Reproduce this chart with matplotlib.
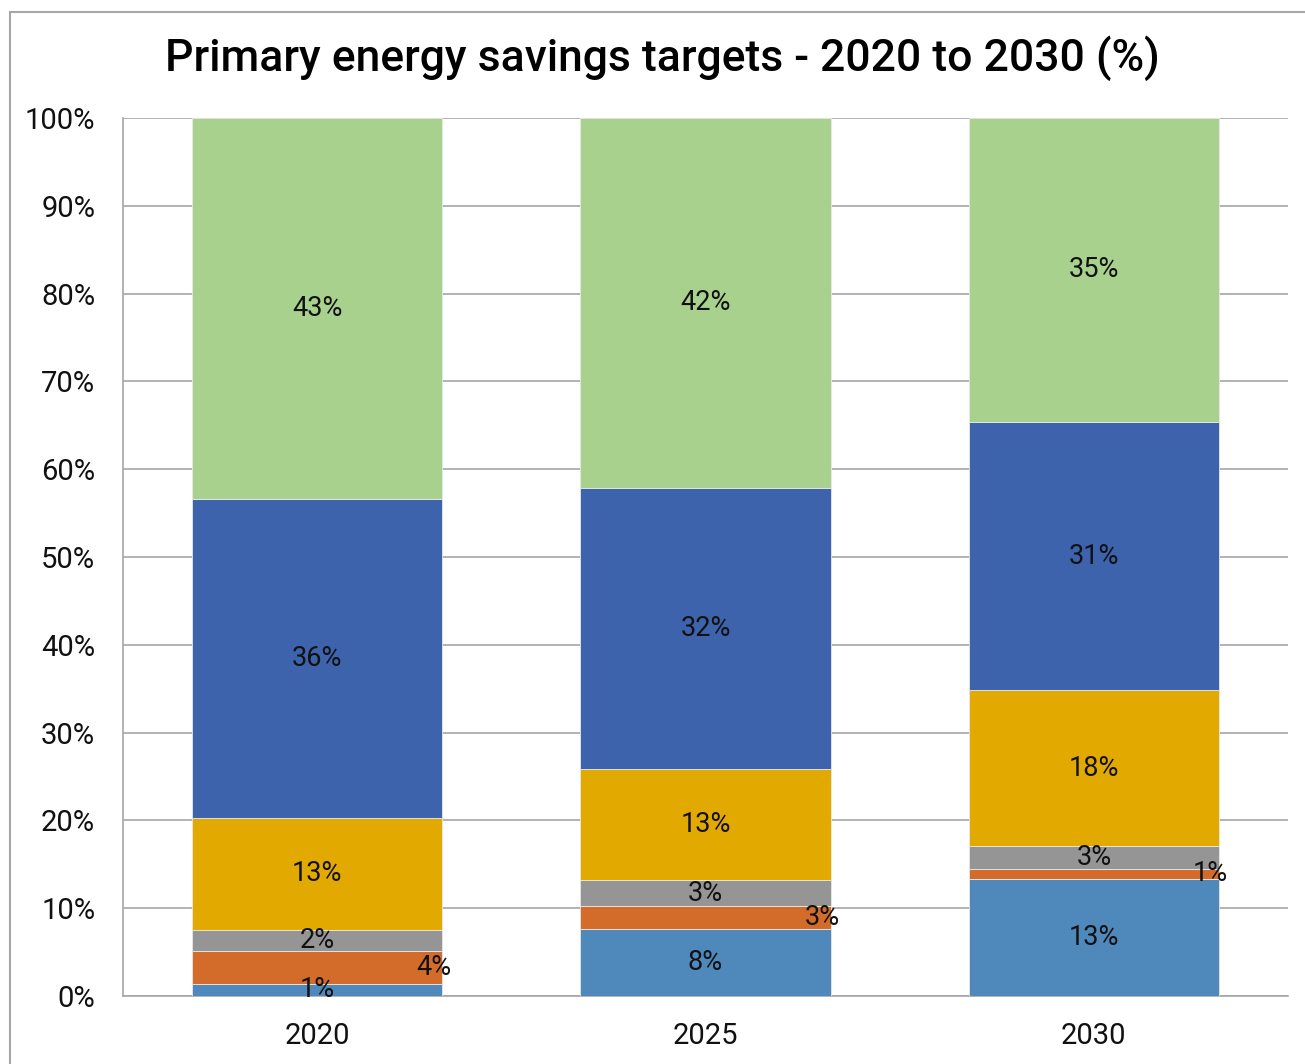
import matplotlib
matplotlib.use("Agg")
import matplotlib.pyplot as plt
from matplotlib.patches import Rectangle
import numpy as np

years = ["2020", "2025", "2030"]
light_blue = [1.4, 7.6, 13.3]
orange = [3.7, 2.6, 1.2]
gray = [2.4, 3.0, 2.6]
gold = [12.8, 12.6, 17.7]
dark_blue = [36.3, 32.1, 30.6]
green = [43.4, 42.1, 34.6]
y_ticks = [0, 10, 20, 30, 40, 50, 60, 70, 80, 90, 100]
title = "Primary energy savings targets - 2020 to 2030 (%)"

series = [light_blue, orange, gray, gold, dark_blue, green]
colors = ["#4F88BB", "#D36C2B", "#959595", "#E2A900", "#3C63AC", "#A8D18D"]

plt.rcParams['font.family'] = ['Roboto', 'DejaVu Sans']

fig = plt.figure(figsize=(13.05, 10.64), dpi=100)
W, H = 1305, 1064
ax = fig.add_axes([123 / W, 1 - 996 / H, (1288 - 123) / W, (996 - 118) / H])

x = np.arange(len(years))
bw = 0.644
bottom = np.zeros(len(years))
for i, (vals, c) in enumerate(zip(series, colors)):
    vals = np.array(vals)
    ax.bar(x, vals, bw, bottom=bottom, color=c, edgecolor="#E8E8E8", linewidth=0.6, zorder=3)
    for j in range(len(years)):
        yc = bottom[j] + vals[j] / 2
        xc = x[j] + (0.30 if i == 1 else 0)
        ax.text(xc, yc, f"{vals[j]:.0f}%", ha="center", va="center", fontsize=19.5,
                color="#111111", zorder=5)
    bottom = bottom + vals

ax.set_xlim(-0.5, 2.5)
ax.set_ylim(0, 100)
ax.set_yticks(y_ticks)
ax.set_yticklabels([f"{t}%" for t in y_ticks])
ax.set_xticks(x)
ax.set_xticklabels(years)
ax.tick_params(axis="both", length=0, labelsize=21, colors="#111111")
ax.tick_params(axis="y", pad=20)
ax.tick_params(axis="x", pad=19)
ax.yaxis.grid(True, color="#A6A6A6", linewidth=1.2, zorder=0)
ax.set_axisbelow(True)
for s in ["top", "right"]:
    ax.spines[s].set_visible(False)
for s in ["left", "bottom"]:
    ax.spines[s].set_color("#A6A6A6")
    ax.spines[s].set_linewidth(1.2)

fig.text(662 / W, 1 - 58 / H, title, ha="center", va="center", fontsize=32,
         fontweight="medium", color="#000000")

# outer chart border
fig.add_artist(Rectangle((10 / W, -0.1), 1.2, 1 - 12 / H + 0.1, transform=fig.transFigure,
                         fill=False, edgecolor="#A6A6A6", linewidth=1.5))

fig.savefig("out.png", dpi=100)
